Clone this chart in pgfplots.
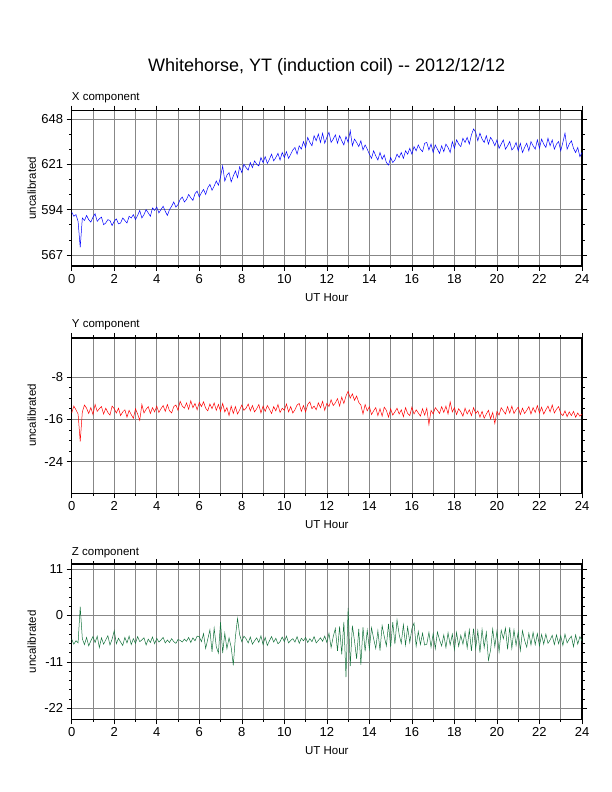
\documentclass[border=0pt]{standalone}
\usepackage{fontspec}
\setmainfont{Liberation Sans}
\usepackage{pgfplots}
\usepackage{pgfplotstable}
\pgfplotsset{compat=1.18}

\pgfplotstableread[row sep=\\]{
v\\
592.5\\ 590\\ 591\\ 587\\ 571.5\\ 589\\ 587.5\\ 590.5\\ 588\\ 586.5\\
589.5\\ 591.5\\ 587\\ 588.5\\ 589.5\\ 585\\ 586\\ 588\\ 587.5\\ 584.5\\
587\\ 588.5\\ 585.5\\ 586\\ 589\\ 587.5\\ 586\\ 590\\ 589\\ 591\\
588\\ 590.5\\ 593.5\\ 589\\ 591\\ 594\\ 592\\ 590\\ 595\\ 593.5\\
595.5\\ 592\\ 594\\ 596\\ 593\\ 590.5\\ 594\\ 596\\ 598.5\\ 595.5\\
597\\ 600\\ 601.5\\ 598.5\\ 600\\ 603\\ 601\\ 599.5\\ 603.5\\ 605\\
601.5\\ 604\\ 606\\ 603\\ 607\\ 609\\ 605.5\\ 608\\ 611\\ 608.5\\
613.5\\ 620\\ 611\\ 614.5\\ 616\\ 610.5\\ 614\\ 617\\ 613\\ 619.5\\
616\\ 621\\ 619\\ 617.5\\ 622\\ 619\\ 623\\ 621\\ 620\\ 625\\
622\\ 625.5\\ 621.5\\ 624\\ 627\\ 623\\ 625\\ 627.5\\ 623.5\\ 628\\
625\\ 628.5\\ 624.5\\ 627\\ 629.5\\ 631\\ 627\\ 632\\ 630\\ 634.5\\
631\\ 637\\ 634\\ 632\\ 638\\ 635\\ 639\\ 634\\ 639.5\\ 633.5\\
637\\ 640\\ 634\\ 636\\ 638.5\\ 633.5\\ 638\\ 635\\ 632.5\\ 637.5\\
634\\ 641\\ 632\\ 636\\ 634\\ 631.5\\ 635\\ 629.5\\ 632.5\\ 630\\
627\\ 624.5\\ 629\\ 626\\ 623.5\\ 628\\ 624\\ 626.5\\ 622\\ 620.5\\
625\\ 622\\ 623.5\\ 627\\ 625\\ 628\\ 624.5\\ 629\\ 627\\ 630.5\\
627\\ 631.5\\ 629\\ 632.5\\ 630\\ 628.5\\ 633.5\\ 634\\ 629.5\\ 633\\
628\\ 632.5\\ 630\\ 627.5\\ 632\\ 628.5\\ 633\\ 631\\ 628\\ 634.5\\
630.5\\ 635.5\\ 633\\ 631.5\\ 636.5\\ 634\\ 637\\ 633\\ 638.5\\ 642\\
640\\ 635\\ 639.5\\ 636\\ 634\\ 638\\ 633\\ 637\\ 635\\ 632\\
635.5\\ 630.5\\ 633\\ 635.5\\ 630\\ 632\\ 634.5\\ 629.5\\ 631\\ 634\\
629\\ 633.5\\ 628\\ 631\\ 633.5\\ 629\\ 634.5\\ 632\\ 630\\ 635.5\\
630.5\\ 636\\ 633\\ 631\\ 636.5\\ 632\\ 635.5\\ 630\\ 633\\ 634.5\\
629\\ 634\\ 639.5\\ 630\\ 633\\ 635\\ 630.5\\ 628\\ 631\\ 625.5\\
628\\
}\xdata

\pgfplotstableread[row sep=\\]{
v\\
-14.8\\ -13.5\\ -14.2\\ -15.0\\ -20.2\\ -14.6\\ -13.3\\ -13.9\\ -14.9\\ -13.8\\
-15.1\\ -13.2\\ -14.5\\ -14.0\\ -13.6\\ -15.0\\ -13.9\\ -14.7\\ -15.2\\ -13.5\\
-14.0\\ -14.8\\ -13.9\\ -15.3\\ -14.6\\ -14.2\\ -15.6\\ -14.3\\ -15.1\\ -15.8\\
-14.0\\ -15.0\\ -16.2\\ -13.2\\ -14.8\\ -14.1\\ -13.6\\ -14.9\\ -13.8\\ -14.6\\
-13.5\\ -14.7\\ -14.0\\ -13.4\\ -14.5\\ -13.2\\ -14.4\\ -14.8\\ -13.6\\ -13.3\\
-14.3\\ -12.6\\ -13.5\\ -13.9\\ -12.9\\ -14.1\\ -12.5\\ -13.8\\ -13.0\\ -14.2\\
-12.8\\ -13.6\\ -12.7\\ -13.9\\ -14.4\\ -13.1\\ -14.0\\ -12.9\\ -14.3\\ -13.2\\
-14.5\\ -13.0\\ -14.6\\ -13.8\\ -15.3\\ -13.5\\ -14.9\\ -13.6\\ -15.0\\ -14.2\\
-13.3\\ -14.3\\ -13.9\\ -13.1\\ -14.4\\ -13.4\\ -14.6\\ -14.0\\ -13.2\\ -14.8\\
-13.5\\ -14.5\\ -13.4\\ -14.1\\ -14.9\\ -13.6\\ -14.4\\ -13.2\\ -14.7\\ -13.9\\
-14.3\\ -13.1\\ -14.6\\ -13.6\\ -14.8\\ -14.2\\ -13.3\\ -13.0\\ -14.5\\ -13.4\\
-14.6\\ -13.2\\ -12.7\\ -14.0\\ -13.5\\ -14.2\\ -12.9\\ -13.8\\ -12.6\\ -14.3\\
-13.0\\ -13.6\\ -12.3\\ -13.4\\ -12.9\\ -12.1\\ -13.5\\ -11.8\\ -13.0\\ -11.6\\
-10.7\\ -12.0\\ -11.2\\ -12.4\\ -11.6\\ -12.8\\ -13.3\\ -15.0\\ -13.2\\ -14.4\\
-13.6\\ -15.1\\ -14.4\\ -13.8\\ -15.3\\ -14.0\\ -15.4\\ -13.7\\ -14.3\\ -15.6\\
-14.0\\ -15.2\\ -14.6\\ -13.9\\ -15.0\\ -14.2\\ -15.5\\ -13.8\\ -14.9\\ -15.3\\
-13.7\\ -15.0\\ -14.2\\ -14.8\\ -15.4\\ -14.0\\ -15.2\\ -13.9\\ -17.0\\ -14.3\\
-15.0\\ -13.8\\ -14.3\\ -14.9\\ -13.6\\ -14.7\\ -13.5\\ -15.0\\ -12.7\\ -14.6\\
-13.8\\ -15.1\\ -14.0\\ -14.6\\ -15.4\\ -13.9\\ -15.0\\ -14.2\\ -15.3\\ -13.8\\
-14.9\\ -14.4\\ -15.6\\ -14.5\\ -15.8\\ -15.0\\ -14.3\\ -15.9\\ -14.7\\ -16.8\\
-14.5\\ -15.2\\ -13.8\\ -14.4\\ -15.0\\ -13.6\\ -14.8\\ -13.5\\ -14.9\\ -14.2\\
-13.7\\ -15.1\\ -13.9\\ -14.9\\ -14.3\\ -13.6\\ -15.0\\ -13.8\\ -14.7\\ -13.4\\
-14.8\\ -13.7\\ -15.0\\ -14.2\\ -13.5\\ -14.6\\ -13.3\\ -14.8\\ -14.1\\ -13.6\\
-14.9\\ -15.3\\ -14.4\\ -15.5\\ -14.6\\ -15.3\\ -14.5\\ -15.6\\ -14.8\\ -15.4\\
-15.0\\
}\ydata

\pgfplotstableread[row sep=\\]{
v\\
-5.6\\ -6.8\\ -6.0\\ -6.5\\ 2.1\\ -5.5\\ -6.9\\ -5.2\\ -7.2\\ -6.0\\
-5.0\\ -6.4\\ -4.9\\ -7.6\\ -5.3\\ -6.8\\ -5.8\\ -4.8\\ -7.0\\ -5.6\\
-3.6\\ -6.7\\ -5.4\\ -6.3\\ -7.1\\ -5.2\\ -6.5\\ -4.9\\ -6.9\\ -5.5\\
-6.6\\ -5.0\\ -6.2\\ -5.8\\ -5.3\\ -7.0\\ -5.6\\ -6.4\\ -5.1\\ -6.7\\
-5.4\\ -6.3\\ -5.8\\ -5.2\\ -6.5\\ -5.8\\ -6.4\\ -5.5\\ -6.2\\ -6.6\\
-5.7\\ -5.9\\ -6.3\\ -5.6\\ -6.1\\ -5.2\\ -6.4\\ -5.3\\ -6.0\\ -4.9\\
-5.0\\ -6.2\\ -4.3\\ -7.8\\ -5.6\\ -3.4\\ -8.6\\ -3.0\\ -7.4\\ -8.9\\
-1.6\\ -8.9\\ -4.2\\ -7.9\\ -5.3\\ -7.5\\ -11.8\\ -5.0\\ -0.7\\ -4.6\\
-6.2\\ -4.9\\ -5.5\\ -6.5\\ -5.1\\ -6.8\\ -6.0\\ -5.3\\ -6.4\\ -4.8\\
-6.9\\ -5.2\\ -7.1\\ -6.0\\ -5.0\\ -6.3\\ -5.4\\ -6.7\\ -6.2\\ -5.1\\
-6.2\\ -4.9\\ -6.5\\ -5.9\\ -5.5\\ -6.3\\ -5.0\\ -6.6\\ -5.4\\ -6.0\\
-5.2\\ -6.4\\ -5.5\\ -6.2\\ -5.0\\ -6.5\\ -5.9\\ -5.3\\ -6.1\\ -4.9\\
-6.4\\ -4.2\\ -7.6\\ -5.0\\ -3.1\\ -8.4\\ -2.6\\ -9.2\\ -1.5\\ -14.6\\
1.8\\ -12.0\\ -2.4\\ -6.0\\ -10.3\\ -3.2\\ -11.7\\ -2.8\\ -8.5\\ -3.5\\
-8.0\\ -2.9\\ -5.5\\ -7.8\\ -3.6\\ -8.3\\ -2.4\\ -5.0\\ -7.2\\ -2.0\\
-7.5\\ -1.6\\ -6.8\\ -1.0\\ -4.5\\ -6.6\\ -2.2\\ -7.0\\ -2.7\\ -6.4\\
-3.1\\ -1.8\\ -7.3\\ -3.8\\ -6.9\\ -4.2\\ -7.0\\ -6.8\\ -4.0\\ -7.5\\
-4.3\\ -7.9\\ -3.9\\ -5.8\\ -7.2\\ -4.6\\ -7.6\\ -4.1\\ -7.0\\ -4.4\\
-8.1\\ -4.0\\ -7.3\\ -4.7\\ -6.8\\ -3.9\\ -7.7\\ -3.4\\ -8.4\\ -3.1\\
-7.9\\ -3.6\\ -8.8\\ -3.3\\ -7.6\\ -4.0\\ -10.6\\ -8.2\\ -3.2\\ -7.4\\
-3.7\\ -8.6\\ -3.5\\ -5.5\\ -3.0\\ -8.0\\ -2.8\\ -7.8\\ -3.4\\ -7.1\\
-3.9\\ -8.3\\ -3.6\\ -5.9\\ -7.5\\ -4.2\\ -7.0\\ -4.0\\ -6.9\\ -4.3\\
-7.2\\ -4.5\\ -6.8\\ -4.4\\ -6.6\\ -5.8\\ -4.7\\ -6.9\\ -4.6\\ -6.7\\
-4.8\\ -7.1\\ -4.4\\ -6.5\\ -5.6\\ -4.9\\ -7.4\\ -4.6\\ -6.8\\ -5.0\\
-6.0\\
}\zdata

\definecolor{zgreen}{RGB}{20,115,60}
\definecolor{gridgray}{RGB}{135,135,135}

\pgfplotsset{
  magpanel/.style={
    scale only axis,
    width=510.3pt, height=155.3pt,
    anchor=south west,
    xmin=0, xmax=24,
    xtick={0,2,...,24},
    minor xtick={1,3,...,23},
    xmajorgrids, xminorgrids, ymajorgrids,
    major grid style={gridgray, line width=0.6pt},
    minor grid style={gridgray, line width=0.6pt},
    tick align=outside,
    major tick length=5pt,
    minor tick length=2.5pt,
    axis line style={line width=1.2pt},
    every tick/.style={black, line width=0.6pt},
    xticklabel pos=lower,
    yticklabel pos=left,
    xtick pos=both, ytick pos=both,
    tick label style={font=\fontsize{13}{15}\selectfont},
    /pgf/number format/assume math mode=true,
    scaled ticks=false,
    yticklabel style={/pgf/number format/fixed},
    clip=true,
  }
}

\begin{document}
\begin{tikzpicture}
\useasboundingbox (0,0) rectangle (612pt,792pt);

\begin{axis}[magpanel, at={(71.7pt,526pt)},
  ymin=560.4, ymax=652.9, ytick={567,594,621,648}, minor y tick num=2]
\addplot[blue, line width=0.5pt] table[x expr=\coordindex*0.1, y=v] {\xdata};
\end{axis}

\begin{axis}[magpanel, at={(71.7pt,298.7pt)},
  ymin=-29.95, ymax=-0.66, ytick={-24,-16,-8}, minor y tick num=3]
\addplot[red, line width=0.5pt] table[x expr=\coordindex*0.1, y=v] {\ydata};
\end{axis}

\begin{axis}[magpanel, at={(71.7pt,72.7pt)},
  ymin=-24.6, ymax=12.2, ytick={-22,-11,0,11}, minor y tick num=4]
\addplot[zgreen, line width=0.5pt] table[x expr=\coordindex*0.1, y=v] {\zdata};
\end{axis}

\node[font=\fontsize{18}{21}\selectfont] at (326.7pt,724.7pt) {Whitehorse, YT (induction coil) -{}- 2012/12/12};

\begin{scope}[every node/.style={font=\fontsize{11.5}{13}\selectfont}]
\node[anchor=west, inner sep=0pt] at (71.7pt,694.7pt) {X component};
\node[anchor=west, inner sep=0pt] at (71.7pt,467pt) {Y component};
\node[anchor=west, inner sep=0pt] at (71.7pt,239.7pt) {Z component};
\node at (326.8pt,494.5pt) {UT Hour};
\node at (326.8pt,267.2pt) {UT Hour};
\node at (326.8pt,41.2pt) {UT Hour};
\node[rotate=90] at (31.7pt,603.7pt) {uncalibrated};
\node[rotate=90] at (31.7pt,376.5pt) {uncalibrated};
\node[rotate=90] at (31.7pt,150.2pt) {uncalibrated};
\end{scope}
\end{tikzpicture}
\end{document}
